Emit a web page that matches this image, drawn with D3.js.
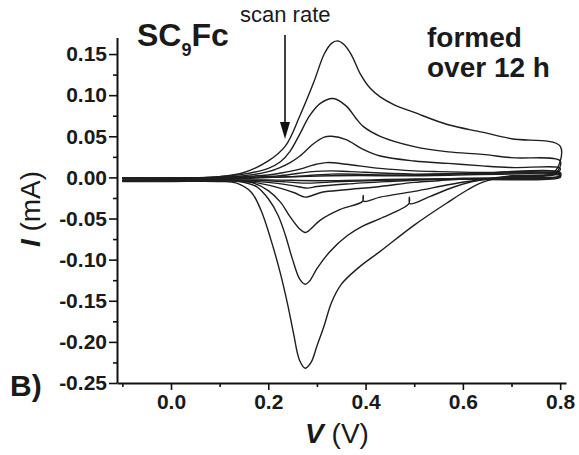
<!DOCTYPE html>
<html><head><meta charset="utf-8">
<script src="https://cdn.jsdelivr.net/npm/d3@7"></script>
<style>body{margin:0;background:#fff} svg{display:block}</style>
</head><body><svg id="c" width="579" height="455"></svg>
<script>
// ---- data: cyclic voltammograms [V (V), I (mA)] ----
const cv1Anodic = [[-0.1,-0.001],[0.0,-0.001],[0.1,0.001],[0.15,0.006],[0.2,0.02],[0.235,0.038],[0.265,0.075],[0.293,0.115],[0.315,0.150],[0.33,0.163],[0.342,0.166],[0.355,0.162],[0.37,0.150],[0.39,0.125],[0.41,0.108],[0.43,0.098],[0.46,0.088],[0.5,0.079],[0.57,0.064],[0.64,0.055],[0.7,0.047],[0.8,0.038]];
const cv1Cathodic = [[0.787,0.006],[0.72,0.002],[0.68,0.0],[0.64,-0.006],[0.61,-0.015],[0.57,-0.030],[0.5,-0.058],[0.43,-0.090],[0.385,-0.110],[0.35,-0.130],[0.33,-0.152],[0.315,-0.180],[0.3,-0.205],[0.288,-0.225],[0.276,-0.232],[0.264,-0.222],[0.252,-0.19],[0.24,-0.155],[0.225,-0.117],[0.205,-0.075],[0.185,-0.040],[0.165,-0.018],[0.135,-0.007],[0.1,-0.005],[0.0,-0.005],[-0.1,-0.005]];
const cv2Anodic = [[-0.1,-0.001],[0.0,-0.001],[0.1,0.001],[0.15,0.004],[0.2,0.011],[0.225,0.019],[0.245,0.032],[0.265,0.053],[0.285,0.075],[0.307,0.090],[0.333,0.096],[0.36,0.087],[0.38,0.072],[0.395,0.062],[0.43,0.050],[0.5,0.0375],[0.57,0.031],[0.64,0.028],[0.7,0.024],[0.8,0.020]];
const cv2Cathodic = [[0.79,0.005],[0.7,0.002],[0.66,-0.001],[0.62,-0.005],[0.58,-0.012],[0.533,-0.023],[0.491,-0.032],[0.490,-0.024],[0.489,-0.032],[0.43,-0.050],[0.395,-0.059],[0.362,-0.071],[0.327,-0.090],[0.30,-0.111],[0.285,-0.126],[0.276,-0.130],[0.265,-0.124],[0.25,-0.100],[0.235,-0.070],[0.22,-0.046],[0.2,-0.026],[0.175,-0.011],[0.14,-0.005],[0.1,-0.004],[0.0,-0.004],[-0.1,-0.004]];
const cv3Anodic = [[-0.1,-0.001],[0.0,-0.001],[0.1,0.0],[0.15,0.002],[0.2,0.007],[0.224,0.012],[0.245,0.018],[0.265,0.026],[0.293,0.041],[0.315,0.049],[0.33,0.050],[0.36,0.046],[0.395,0.034],[0.43,0.026],[0.5,0.020],[0.57,0.017],[0.64,0.014],[0.7,0.012],[0.8,0.011]];
const cv3Cathodic = [[0.792,0.004],[0.7,0.001],[0.65,-0.002],[0.61,-0.005],[0.57,-0.009],[0.5,-0.017],[0.43,-0.024],[0.396,-0.029],[0.395,-0.022],[0.394,-0.029],[0.348,-0.039],[0.307,-0.052],[0.285,-0.064],[0.276,-0.067],[0.265,-0.063],[0.245,-0.048],[0.225,-0.030],[0.2,-0.016],[0.17,-0.007],[0.13,-0.004],[0.0,-0.004],[-0.1,-0.004]];
const cv4Anodic = [[-0.1,-0.001],[0.0,-0.001],[0.15,0.001],[0.2,0.003],[0.224,0.005],[0.265,0.010],[0.292,0.015],[0.32,0.018],[0.36,0.016],[0.43,0.011],[0.5,0.008],[0.55,0.007],[0.64,0.006],[0.8,0.006]];
const cv4Cathodic = [[0.8,0.002],[0.7,0.0],[0.6,-0.002],[0.55,-0.004],[0.5,-0.006],[0.43,-0.011],[0.36,-0.015],[0.31,-0.018],[0.276,-0.024],[0.255,-0.019],[0.224,-0.013],[0.18,-0.007],[0.14,-0.004],[0.0,-0.004],[-0.1,-0.004]];
const cv5Anodic = [[-0.1,-0.001],[0.0,-0.001],[0.15,0.0],[0.224,0.002],[0.29,0.007],[0.33,0.008],[0.37,0.007],[0.5,0.004],[0.8,0.004]];
const cv5Cathodic = [[0.8,0.001],[0.6,-0.001],[0.45,-0.005],[0.36,-0.008],[0.3,-0.011],[0.28,-0.013],[0.25,-0.010],[0.2,-0.006],[0.13,-0.004],[-0.1,-0.004]];
const cv6Anodic = [[-0.1,-0.001],[0.15,-0.001],[0.25,0.001],[0.33,0.004],[0.45,0.003],[0.8,0.003]];
const cv6Cathodic = [[0.8,0.001],[0.55,-0.002],[0.35,-0.005],[0.28,-0.007],[0.2,-0.004],[0.1,-0.003],[-0.1,-0.003]];
const cv7Anodic = [[-0.1,-0.001],[0.2,0.0],[0.33,0.002],[0.5,0.002],[0.8,0.002]];
const cv7Cathodic = [[0.8,0.0],[0.5,-0.002],[0.3,-0.004],[0.2,-0.003],[-0.1,-0.003]];

const xMajorTicks = [0.0, 0.2, 0.4, 0.6, 0.8];
const xMinorTicks = [-0.1, 0.1, 0.3, 0.5, 0.7];
const yMajorTicks = [-0.25, -0.20, -0.15, -0.10, -0.05, 0.00, 0.05, 0.10, 0.15];
const yMinorTicks = [-0.225, -0.175, -0.125, -0.075, -0.025, 0.025, 0.075, 0.125];

const loops = [
  [cv1Anodic, cv1Cathodic], [cv2Anodic, cv2Cathodic], [cv3Anodic, cv3Cathodic],
  [cv4Anodic, cv4Cathodic], [cv5Anodic, cv5Cathodic], [cv6Anodic, cv6Cathodic],
  [cv7Anodic, cv7Cathodic]
];

// ---- drawing ----
const svg = d3.select('#c');
const x = d3.scaleLinear().domain([-0.111, 0.812]).range([117, 566]);
const y = d3.scaleLinear().domain([-0.25, 0.17]).range([383, 37.6]);

const line = d3.line().x(d => x(d[0])).y(d => y(d[1])).curve(d3.curveCatmullRom.alpha(0.5));

svg.append('g').selectAll('path').data(loops).join('path')
  .attr('d', d => line(d[0].concat(d[1])))
  .attr('fill', 'none').attr('stroke', '#1e1e1e').attr('stroke-width', 1.4)
  .attr('stroke-linejoin', 'round');

const font = '"Liberation Sans", Arial, sans-serif';

// x axis
svg.append('g').attr('transform', 'translate(0,383)')
  .call(d3.axisBottom(x).tickValues(xMajorTicks).tickSize(7).tickPadding(4).tickSizeOuter(0)
    .tickFormat(d => d.toFixed(1)));
svg.append('g').attr('transform', 'translate(0,383)')
  .call(d3.axisBottom(x).tickValues(xMinorTicks).tickSize(4).tickSizeOuter(0).tickFormat(''))
  .select('.domain').remove();
// y axis
svg.append('g').attr('transform', 'translate(117,0)')
  .call(d3.axisLeft(y).tickValues(yMajorTicks).tickSize(8).tickPadding(2).tickSizeOuter(0)
    .tickFormat(d => (Math.abs(d) < 1e-9 ? 0 : d).toFixed(2)));
svg.append('g').attr('transform', 'translate(117,0)')
  .call(d3.axisLeft(y).tickValues(yMinorTicks).tickSize(4).tickSizeOuter(0).tickFormat(''))
  .select('.domain').remove();

svg.selectAll('.domain').attr('stroke', '#111').attr('stroke-width', 2);
svg.selectAll('.tick line').attr('stroke', '#111').attr('stroke-width', 1.6);
svg.selectAll('.tick text').attr('font-family', font).attr('font-weight', 'bold')
  .attr('font-size', 21).attr('fill', '#1a1a1a');

// axis titles
const yt = svg.append('text').attr('transform', 'translate(40,209) rotate(-90)')
  .attr('text-anchor', 'middle').attr('font-family', font).attr('font-size', 28).attr('fill', '#1a1a1a');
yt.append('tspan').attr('font-weight', 'bold').attr('font-style', 'italic').text('I');
yt.append('tspan').text(' (mA)');

const xt = svg.append('text').attr('x', 337).attr('y', 443)
  .attr('text-anchor', 'middle').attr('font-family', font).attr('font-size', 28).attr('fill', '#1a1a1a');
xt.append('tspan').attr('font-weight', 'bold').attr('font-style', 'italic').text('V');
xt.append('tspan').text(' (V)');

// annotations
const sc = svg.append('text').attr('x', 137).attr('y', 46).attr('font-family', font)
  .attr('font-weight', 'bold').attr('font-size', 32).attr('fill', '#1a1a1a');
sc.append('tspan').text('SC');
sc.append('tspan').attr('font-size', 18).attr('dy', 10).text('9');
sc.append('tspan').attr('dy', -10).text('Fc');

svg.append('text').attr('x', 240).attr('y', 22).attr('font-family', font)
  .attr('font-size', 22).attr('fill', '#1a1a1a').text('scan rate');

svg.append('text').attr('x', 427).attr('y', 47).attr('font-family', font)
  .attr('font-weight', 'bold').attr('font-size', 28).attr('fill', '#1a1a1a').text('formed');
svg.append('text').attr('x', 427).attr('y', 77).attr('font-family', font)
  .attr('font-weight', 'bold').attr('font-size', 28).attr('fill', '#1a1a1a').text('over 12 h');

svg.append('text').attr('x', 10).attr('y', 396).attr('font-family', font)
  .attr('font-weight', 'bold').attr('font-size', 30).attr('fill', '#1a1a1a').text('B)');

// arrow
svg.append('line').attr('x1', 285).attr('x2', 285).attr('y1', 35).attr('y2', 126)
  .attr('stroke', '#111').attr('stroke-width', 1.6);
svg.append('path').attr('d', 'M280,122 L290,122 L285,139 Z').attr('fill', '#111');
</script></body></html>
